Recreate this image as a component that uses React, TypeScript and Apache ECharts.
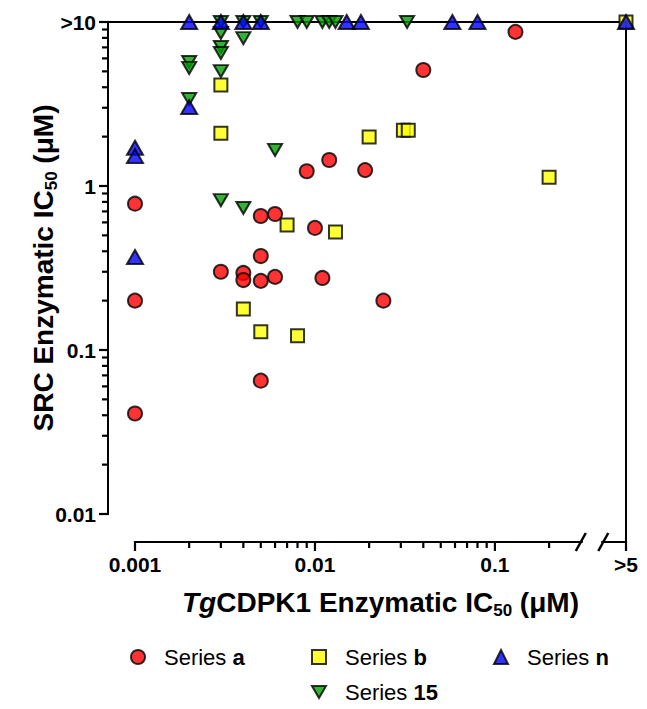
import React, { useEffect, useRef } from 'react';
import * as echarts from 'echarts';

// ---- data ----
const GT_X = '>5';
const GT_Y = '>10';

const seriesNames = ['Series a', 'Series b', 'Series n', 'Series 15'];

const aX = [0.001, 0.001, 0.001, 0.003, 0.004, 0.004, 0.005, 0.005, 0.005, 0.005, 0.006, 0.006, 0.009, 0.01, 0.011, 0.012, 0.019, 0.024, 0.04, 0.13];
const aY = [0.041, 0.2, 0.78, 0.3, 0.295, 0.267, 0.374, 0.264, 0.656, 0.065, 0.675, 0.279, 1.23, 0.555, 0.275, 1.44, 1.25, 0.2, 5.1, 8.7];

const bX: (number | string)[] = [0.003, 0.003, 0.004, 0.005, 0.007, 0.008, 0.013, 0.02, 0.031, 0.033, 0.2, GT_X];
const bY: (number | string)[] = [4.13, 2.1, 0.178, 0.129, 0.578, 0.122, 0.525, 1.99, 2.19, 2.19, 1.13, GT_Y];

const nX: (number | string)[] = [0.001, 0.001, 0.001, 0.002, 0.002, 0.003, 0.004, 0.005, 0.015, 0.018, 0.058, 0.08, GT_X];
const nY: (number | string)[] = [1.71, 1.52, 0.369, 3.03, GT_Y, GT_Y, GT_Y, GT_Y, GT_Y, GT_Y, GT_Y, GT_Y, GT_Y];

const gX: (number | string)[] = [0.002, 0.002, 0.002, 0.003, 0.003, 0.003, 0.003, 0.003, 0.003, 0.004, 0.004, 0.004, 0.005, 0.006, 0.008, 0.009, 0.011, 0.012, 0.013, 0.0325];
const gY: (number | string)[] = [5.7, 5.25, 3.39, GT_Y, 8.57, 7.04, 6.47, 5.02, 0.82, GT_Y, 7.98, 0.734, GT_Y, 1.66, GT_Y, GT_Y, GT_Y, GT_Y, GT_Y, GT_Y];

// axis ranges / ticks
const X_MIN = 0.001;
const X_MAX = 0.535; // position of the ">5" column after the axis break
const Y_MIN = 0.01;
const Y_MAX = 10; // position of the ">10" row
const BREAK_AT = [0.3, 0.4];

const xMajorTicks = [0.001, 0.01, 0.1, GT_X];
const xMinorTicks = [0.002, 0.003, 0.004, 0.005, 0.006, 0.007, 0.008, 0.009, 0.02, 0.03, 0.04, 0.05, 0.06, 0.07, 0.08, 0.09, 0.2];
const yMajorTicks = [0.01, 0.1, 1, GT_Y];
const yMinorTicks = [0.02, 0.03, 0.04, 0.05, 0.06, 0.07, 0.08, 0.09, 0.2, 0.3, 0.4, 0.5, 0.6, 0.7, 0.8, 0.9, 2, 3, 4, 5, 6, 7, 8, 9];

// ---- helpers ----
const FONT = 'Arial, "Liberation Sans", Helvetica, sans-serif';
const toX = (v: number | string) => (v === GT_X ? X_MAX * 0.999999 : (v as number));
const toY = (v: number | string) => (v === GT_Y ? Y_MAX * 0.999999 : (v as number));
const pairs = (xs: (number | string)[], ys: (number | string)[]) => xs.map((x, i) => [toX(x), toY(ys[i])]);

const xLabel = (v: number) => {
  if (v > 0.4) return GT_X;
  const m = [0.001, 0.01, 0.1].find((t) => Math.abs(v / t - 1) < 1e-3);
  return m !== undefined ? String(m) : '';
};
const yLabel = (v: number) => {
  if (v > 5) return GT_Y;
  const m = [0.01, 0.1, 1].find((t) => Math.abs(v / t - 1) < 1e-3);
  return m !== undefined ? String(m) : '';
};

const DOWN_TRI = 'path://M0,0 L20,0 L10,17 Z';

const X_OFFSET = 28;
const Y_OFFSET = 27;
const TITLE_SIZE = 28;
const LABEL_SIZE = 21;
const MAJOR_LEN = 9;
const MINOR_LEN = 6;
const TICK_W = 2.2;

const titleRich = {
  sub: { fontSize: 17, fontWeight: 'bold', fontFamily: FONT, color: '#000', lineHeight: 13, verticalAlign: 'bottom' },
  it: { fontSize: TITLE_SIZE, fontWeight: 'bold', fontStyle: 'italic', fontFamily: FONT, color: '#000', lineHeight: 34 },
};

const legendPos = [
  { left: 130, top: 644 },
  { left: 311, top: 644 },
  { left: 493, top: 644 },
  { left: 311, top: 679 },
];

// tick marks drawn by a custom series placed through the log axes
const tickSeries = (dir: 'x' | 'y', vals: number[], len: number) => ({
  type: 'custom',
  xAxisIndex: 0,
  yAxisIndex: 0,
  silent: true,
  clip: false,
  z: 1,
  data: vals.map((v) => (dir === 'x' ? [v, Y_MIN] : [X_MIN, v])),
  encode: { x: 0, y: 1 },
  renderItem: (_params: any, api: any) => {
    const p = api.coord([api.value(0), api.value(1)]);
    if (dir === 'x') {
      const y0 = p[1] + X_OFFSET;
      return { type: 'line', shape: { x1: p[0], y1: y0 - 1, x2: p[0], y2: y0 + len }, style: { stroke: '#000', lineWidth: TICK_W } };
    }
    const x0 = p[0] - Y_OFFSET;
    return { type: 'line', shape: { x1: x0 + 1, y1: p[1], x2: x0 - len, y2: p[1] }, style: { stroke: '#000', lineWidth: TICK_W } };
  },
});

function buildOption(): any {
  const common = { type: 'scatter', xAxisIndex: 0, yAxisIndex: 0 };
  const border = { borderColor: '#000', borderWidth: 2 };
  const nameStyle = { fontSize: TITLE_SIZE, fontWeight: 'bold', color: '#000', fontFamily: FONT, lineHeight: 34, rich: titleRich };
  const labelStyle = { fontSize: LABEL_SIZE, fontWeight: 'bold', color: '#000', fontFamily: FONT };
  return {
    animation: false,
    backgroundColor: '#fff',
    textStyle: { fontFamily: FONT },
    grid: { left: 135, top: 22, width: 491, height: 492, containLabel: false, outerBoundsMode: 'none' },
    xAxis: {
      type: 'log', logBase: 10, min: X_MIN, max: X_MAX, position: 'bottom', offset: X_OFFSET,
      axisLine: { show: true, onZero: false, lineStyle: { color: '#000', width: 2 } },
      axisTick: { show: false },
      axisLabel: { show: true, customValues: xMajorTicks.map(toX), formatter: xLabel, margin: 12, ...labelStyle },
      splitLine: { show: false },
      name: '{it|Tg}CDPK1 Enzymatic IC{sub|50} (μM)',
      nameLocation: 'middle', nameGap: 43, nameMoveOverlap: false,
      nameTextStyle: nameStyle,
    },
    yAxis: {
      type: 'log', logBase: 10, min: Y_MIN, max: Y_MAX, position: 'left', offset: Y_OFFSET,
      axisLine: { show: true, onZero: false, lineStyle: { color: '#000', width: 2 } },
      axisTick: { show: false },
      axisLabel: { show: true, customValues: yMajorTicks.map(toY), formatter: yLabel, margin: 12, ...labelStyle },
      splitLine: { show: false },
      name: 'SRC Enzymatic IC{sub|50} (μM)',
      nameLocation: 'middle', nameGap: 48, nameRotate: 90, nameMoveOverlap: false,
      nameTextStyle: nameStyle,
    },
    legend: seriesNames.map((name, i) => ({
      data: [name],
      left: legendPos[i].left,
      top: legendPos[i].top,
      padding: 0,
      itemWidth: 14,
      itemHeight: 14,
      selectedMode: false,
      formatter: (n: string) => {
        const parts = n.split(' ');
        return `${parts[0]} {b|${parts[1]}}`;
      },
      textStyle: {
        fontSize: 22, color: '#000', fontFamily: FONT, lineHeight: 26, padding: [0, 0, 0, 14],
        rich: { b: { fontSize: 22, fontWeight: 'bold', color: '#000', fontFamily: FONT, lineHeight: 26 } },
      },
    })),
    series: [
      tickSeries('x', xMinorTicks, MINOR_LEN),
      tickSeries('x', xMajorTicks.map(toX), MAJOR_LEN),
      tickSeries('y', yMinorTicks, MINOR_LEN),
      tickSeries('y', yMajorTicks.map(toY), MAJOR_LEN),
      { ...common, name: seriesNames[0], symbol: 'circle', symbolSize: 14, itemStyle: { color: '#FF0000', ...border }, data: pairs(aX, aY), z: 2 },
      { ...common, name: seriesNames[1], symbol: 'rect', symbolSize: 13, itemStyle: { color: '#FFFF00', ...border }, data: pairs(bX, bY), z: 3 },
      { ...common, name: seriesNames[3], symbol: DOWN_TRI, symbolSize: [14, 12], itemStyle: { color: '#00A000', ...border }, data: pairs(gX, gY), z: 4 },
      { ...common, name: seriesNames[2], symbol: 'triangle', symbolSize: [16, 14], itemStyle: { color: '#0000FF', ...border }, data: pairs(nX, nY), z: 5 },
    ],
  };
}

export default function App() {
  const ref = useRef<HTMLDivElement>(null);
  useEffect(() => {
    if (!ref.current) return;
    const chart = echarts.init(ref.current, null, { renderer: 'svg' });
    chart.setOption(buildOption());

    // frame and axis-break decorations positioned through the axes' own scales
    const px = (v: number) => Number(chart.convertToPixel({ xAxisIndex: 0 }, v));
    const py = (v: number) => Number(chart.convertToPixel({ yAxisIndex: 0 }, v));
    const left = px(X_MIN);
    const right = px(X_MAX);
    const top = py(Y_MAX);
    const bottom = py(Y_MIN);
    const yAxisX = left - Y_OFFSET;
    const xAxisY = bottom + X_OFFSET;
    const b1 = px(BREAK_AT[0]);
    const b2 = px(BREAK_AT[1]);

    chart.setOption({
      graphic: {
        elements: [
          { type: 'line', z: 1, shape: { x1: yAxisX - 1, y1: top, x2: right + 1, y2: top }, style: { stroke: '#000', lineWidth: 2 } },
          { type: 'line', z: 1, shape: { x1: right, y1: top, x2: right, y2: xAxisY }, style: { stroke: '#000', lineWidth: 2 } },
          { type: 'rect', z: 10, shape: { x: b1 + 2, y: xAxisY - 3, width: b2 - b1 - 4, height: 6 }, style: { fill: '#fff' } },
          { type: 'line', z: 11, shape: { x1: b1 - 5, y1: xAxisY + 9, x2: b1 + 5, y2: xAxisY - 9 }, style: { stroke: '#000', lineWidth: 2.5 } },
          { type: 'line', z: 11, shape: { x1: b2 - 5, y1: xAxisY + 9, x2: b2 + 5, y2: xAxisY - 9 }, style: { stroke: '#000', lineWidth: 2.5 } },
        ],
      },
    });

    return () => chart.dispose();
  }, []);
  return <div ref={ref} style={{ position: 'absolute', left: 0, top: 0, width: 647, height: 709 }} />;
}
